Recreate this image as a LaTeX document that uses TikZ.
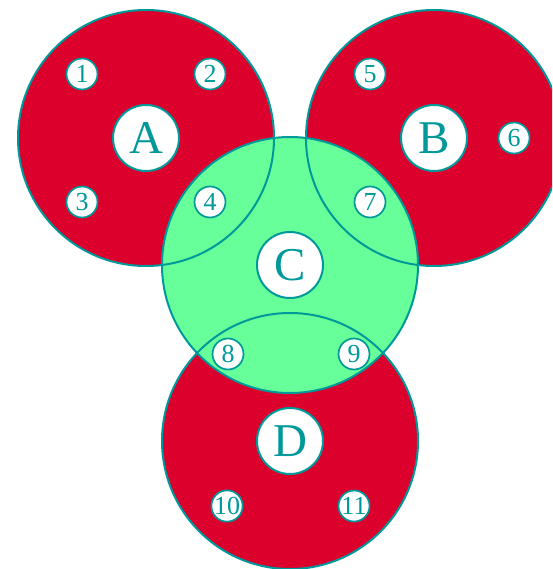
\documentclass[tikz,border=0pt]{standalone}
\usepackage{fontspec}
\setmainfont{Liberation Serif}
\usepackage{xcolor}
\usetikzlibrary{positioning}
\definecolor{setred}{HTML}{DC002D}
\definecolor{setgreen}{HTML}{66FF99}
\definecolor{rim}{HTML}{009999}

\begin{document}
\begin{tikzpicture}[
  x=1pt, y=-1pt,
  ring/.style={draw=rim, line width=2pt},
  title/.style={circle, draw=rim, line width=2pt, fill=white, text=rim, minimum size=66pt, inner sep=0pt, font=\fontsize{47}{47}\selectfont},
  item/.style={circle, draw=rim, line width=1.7pt, fill=white, text=rim, minimum size=31pt, inner sep=0pt, font=\fontsize{26}{26}\selectfont}
]
\useasboundingbox (0,0) rectangle (552,569);
\clip (0,0) rectangle (552,569);

% set centres
\coordinate (cA) at (146,138);
\coordinate (cB) at (434,138);
\coordinate (cC) at (290,265);
\coordinate (cD) at (290,441);

% fills first, outlines on top
\fill[setred] (cA) circle (128);
\fill[setred] (cB) circle (128);
\fill[setred] (cD) circle (128);
\fill[setgreen] (cC) circle (128);
\foreach \c in {cA,cB,cC,cD}
  \draw[ring] (\c) circle (128);

% set names
\node[title] (A) at (cA) {A};
\node[title] (B) at (cB) {B};
\node[title] (C) at (cC) {C};
\node[title] (D) at (cD) {D};

% members
\node[item] (n1) at (82,74) {1};
\node[item] (n2) at (210,74) {2};
\node[item] (n3) at (82,202) {3};
\node[item] (n4) at (210,202) {4};
\node[item] (n5) at (370,74) {5};
\node[item] (n6) at (514,138) {6};
\node[item] (n7) at (370,202) {7};
\node[item] (n8) at (228,354) {8};
\node[item] (n9) at (354,354) {9};
\node[item] (n10) at (227,506) {10};
\node[item] (n11) at (354,506) {11};
\end{tikzpicture}
\end{document}
